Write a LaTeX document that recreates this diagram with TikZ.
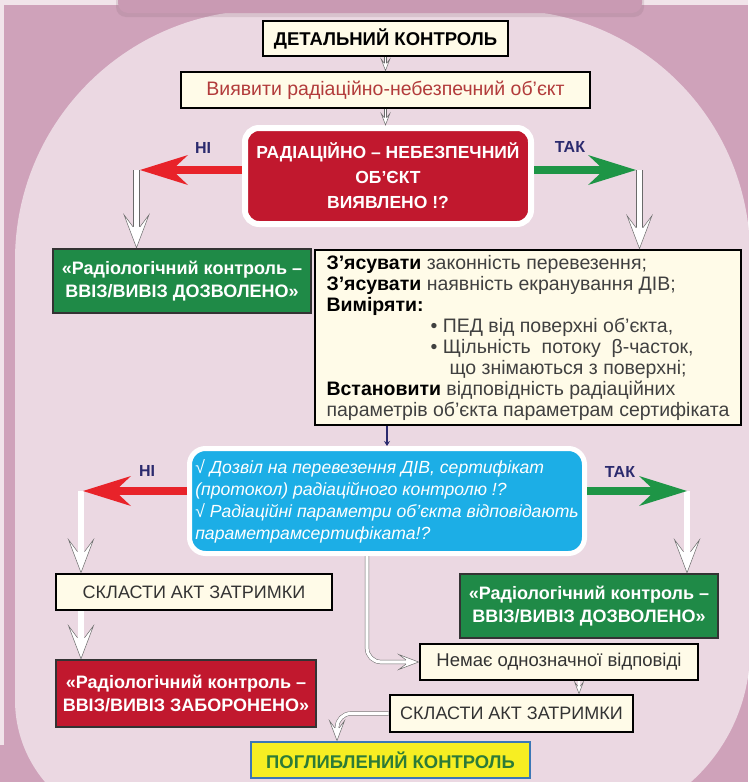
\documentclass[tikz,border=0pt]{standalone}
\usepackage{fontspec}
\setmainfont{Liberation Sans}
\usetikzlibrary{arrows.meta}

\definecolor{bgdark}{HTML}{CFA2BA}
\definecolor{bglight}{HTML}{EBD8E2}
\definecolor{bgpale}{HTML}{F1E4EA}
\definecolor{panel}{HTML}{C99AB3}
\definecolor{cream}{HTML}{FFFBE8}
\definecolor{decred}{HTML}{C1182E}
\definecolor{boxgreen}{HTML}{1F8A47}
\definecolor{skyblue}{HTML}{1CAEE6}
\definecolor{arrred}{HTML}{E8232A}
\definecolor{arrgreen}{HTML}{1E9546}
\definecolor{navy}{HTML}{2B2A6E}
\definecolor{darkred}{HTML}{B23B3B}
\definecolor{deepyellow}{HTML}{F7EE22}
\definecolor{deepblue}{HTML}{3B77B6}
\definecolor{deepgreen}{HTML}{2D7B37}
\definecolor{hollowline}{HTML}{6A6A6A}

\newcommand\fsz[2]{\fontsize{#1}{#2}\selectfont}
\newcommand\bw[1]{{\color{black}\bfseries #1}}

\begin{document}
\begin{tikzpicture}[x=1pt,y=-1pt,
    plain/.style={draw=black, line width=2.8pt, fill=cream, inner xsep=3pt, inner ysep=2pt, align=center},
    filled/.style={draw=black!80, line width=2.5pt, text=white, inner xsep=3pt, inner ysep=2pt, align=center, font=\bfseries\fsz{18}{23}},
    choice/.style={draw=white, line width=6pt, rounded corners=14pt, text=white, inner xsep=3pt, inner ysep=2pt},
    yesno/.style={text=navy, font=\bfseries\fsz{16}{18}},
    noarr/.style={arrred, line width=8pt, -{Stealth[length=48pt,width=30pt,inset=16pt,line width=0pt]}},
    yesarr/.style={arrgreen, line width=8pt, -{Stealth[length=48pt,width=30pt,inset=16pt,line width=0pt]}},
    hshaft/.style={draw=hollowline, line width=0.5pt, double=white, double distance=#1},
    hshaft/.default=5.8pt,
    hhead/.pic={\filldraw[fill=white, draw=hollowline, line width=0.5pt] (-21,3.5) -- (-33,12.5) -- (0,0) -- (-33,-12.5) -- (-21,-3.5);}
  ]
\useasboundingbox (0,0) rectangle (748,782);
\fill[bgdark] (0,0) rectangle (748,782);
\fill[bglight] (15,700) -- (15,260) arc[start angle=180, end angle=270, radius=250]
  -- (505,10) arc[start angle=270, end angle=360, radius=245]
  -- (750,650) arc[start angle=0, end angle=90, radius=177]
  -- (142,827) arc[start angle=90, end angle=180, radius=127] -- cycle;
\fill[bgpale] (0,0) rectangle (748,5);
\fill[bgpale] (0,5) rectangle (4,745);
\fill[panel!70!black, opacity=0.2, rounded corners=10pt] (116,-20) rectangle (644,17);
\fill[panel, rounded corners=10pt] (118,-20) rectangle (642,13);

\node[plain, minimum width=245pt, minimum height=35pt, font=\bfseries\fsz{18.5}{22}] (det) at (385.5,38.5) {ДЕТАЛЬНИЙ КОНТРОЛЬ};
\node[plain, minimum width=409pt, minimum height=36pt, text=darkred, font=\fsz{19.5}{22}] (find) at (385.5,90) {Виявити радіаційно-небезпечний об’єкт};
\node[choice, fill=decred, minimum width=286pt, minimum height=96pt, align=center, font=\bfseries\fsz{17.5}{25}] (dec) at (388,176) {РАДІАЦІЙНО – НЕБЕЗПЕЧНИЙ\\ОБ’ЄКТ\\ВИЯВЛЕНО !?};
\node[filled, fill=boxgreen, minimum width=258pt, minimum height=64pt] (gr1) at (182,281) {«Радіологічний контроль –\\ВВІЗ/ВИВІЗ ДОЗВОЛЕНО»};
\node[plain, minimum width=426pt, minimum height=175pt, align=left, text=black!75, font=\fsz{19.5}{21}] (chk) at (528,337.5) {\bw{З’ясувати} законність перевезення;\\
\bw{З’ясувати} наявність екранування ДІВ;\\
\bw{Виміряти:}\\
\hspace*{104pt}• ПЕД від поверхні об’єкта,\\
\hspace*{104pt}• Щільність\ \ потоку\ \ β-часток,\\
\hspace*{123pt}що знімаються з поверхні;\\
\bw{Встановити} відповідність радіаційних\\
параметрів об’єкта параметрам сертифіката};
\node[choice, fill=skyblue, rounded corners=16pt, line width=5pt, minimum width=395pt, minimum height=105pt, align=left, font=\itshape\fsz{17.6}{22}] (q2) at (387,501) {√ Дозвіл на перевезення ДІВ, сертифікат\\
(протокол) радіаційного контролю !?\\
√ Радіаційні параметри об’єкта відповідають\\
параметрамсертифіката!?};
\node[plain, minimum width=276pt, minimum height=36pt, text=black!80, font=\fsz{18}{22}] (act1) at (194,592) {СКЛАСТИ АКТ ЗАТРИМКИ};
\node[filled, fill=decred, minimum width=260pt, minimum height=67pt] (ban) at (186,693.5) {«Радіологічний контроль –\\ВВІЗ/ВИВІЗ ЗАБОРОНЕНО»};
\node[filled, fill=boxgreen, minimum width=258pt, minimum height=64pt] (gr2) at (589,606) {«Радіологічний контроль –\\ВВІЗ/ВИВІЗ ДОЗВОЛЕНО»};
\node[plain, minimum width=278pt, minimum height=36pt, text=black!80, font=\fsz{18.5}{22}] (unclear) at (559,662) {Немає однозначної відповіді};
\node[plain, minimum width=243pt, minimum height=37pt, text=black!80, font=\fsz{18}{22}] (act2) at (511.5,713.5) {СКЛАСТИ АКТ ЗАТРИМКИ};
\node[plain, fill=deepyellow, draw=deepblue, minimum width=279pt, minimum height=36pt, text=deepgreen, font=\bfseries\fsz{18.4}{22}] (deep) at (390.5,760) {ПОГЛИБЛЕНИЙ КОНТРОЛЬ};

\node[yesno] (no1t) at (203,148) {НІ};
\node[yesno] (yes1t) at (570,147) {ТАК};
\node[yesno] (no2t) at (147,471) {НІ};
\node[yesno] (yes2t) at (620,472) {ТАК};

\coordinate (no1) at (140,170);
\coordinate (yes1) at (636,170);
\coordinate (no2) at (83,491);
\coordinate (yes2) at (687,491);
\coordinate (nodrop1) at (136.5,170);
\coordinate (yesdrop1) at (639.5,170);
\coordinate (nodrop2) at (81,491);
\coordinate (yesdrop2) at (687,491);

\draw[hshaft=1.5pt, shorten >=7pt] (det.south) -- (find.north);
\pic[rotate=-90, scale=0.35] at (find.north) {hhead};
\draw[hshaft=1.5pt, shorten >=7pt] (find.south) -- (find.south |- dec.north);
\pic[rotate=-90, scale=0.35] at (find.south |- dec.north) {hhead};

\draw[hshaft, shorten >=19pt] (nodrop1) -- (nodrop1 |- gr1.north);
\pic[rotate=-90] at (nodrop1 |- gr1.north) {hhead};
\draw[hshaft, shorten >=19pt] (yesdrop1) -- (yesdrop1 |- chk.north);
\pic[rotate=-90] at (yesdrop1 |- chk.north) {hhead};
\draw[hshaft, shorten >=19pt] (nodrop2) -- (nodrop2 |- act1.north);
\pic[rotate=-90] at (nodrop2 |- act1.north) {hhead};
\draw[hshaft, shorten >=19pt] (nodrop2 |- act1.south) -- (nodrop2 |- ban.north);
\pic[rotate=-90] at (nodrop2 |- ban.north) {hhead};
\draw[hshaft, shorten >=19pt] (yesdrop2) -- (yesdrop2 |- gr2.north);
\pic[rotate=-90] at (yesdrop2 |- gr2.north) {hhead};

\draw[hshaft=3.2pt, rounded corners=14pt, shorten >=12pt] ([xshift=-20pt]q2.south) |- (unclear.west);
\pic[scale=0.6] at (unclear.west) {hhead};
\draw[hshaft=1.5pt, shorten >=7pt] ([xshift=20pt]unclear.south) -- ([xshift=67.5pt]act2.north);
\pic[rotate=-90, scale=0.35] at ([xshift=67.5pt]act2.north) {hhead};
\draw[hshaft=3.2pt, rounded corners=14pt, shorten >=12pt] (act2.west) -| ([xshift=-53.5pt]deep.north);
\pic[rotate=-90, scale=0.6] at ([xshift=-53.5pt]deep.north) {hhead};

\draw[navy, line width=1.3pt, -{Stealth[length=5pt,width=6pt]}] (q2.north |- chk.south) -- (q2.north);

\draw[noarr] (dec.west |- no1) -- (no1);
\draw[yesarr] (dec.east |- yes1) -- (yes1);
\draw[noarr] (q2.west |- no2) -- (no2);
\draw[yesarr] (q2.east |- yes2) -- (yes2);
\end{tikzpicture}
\end{document}
